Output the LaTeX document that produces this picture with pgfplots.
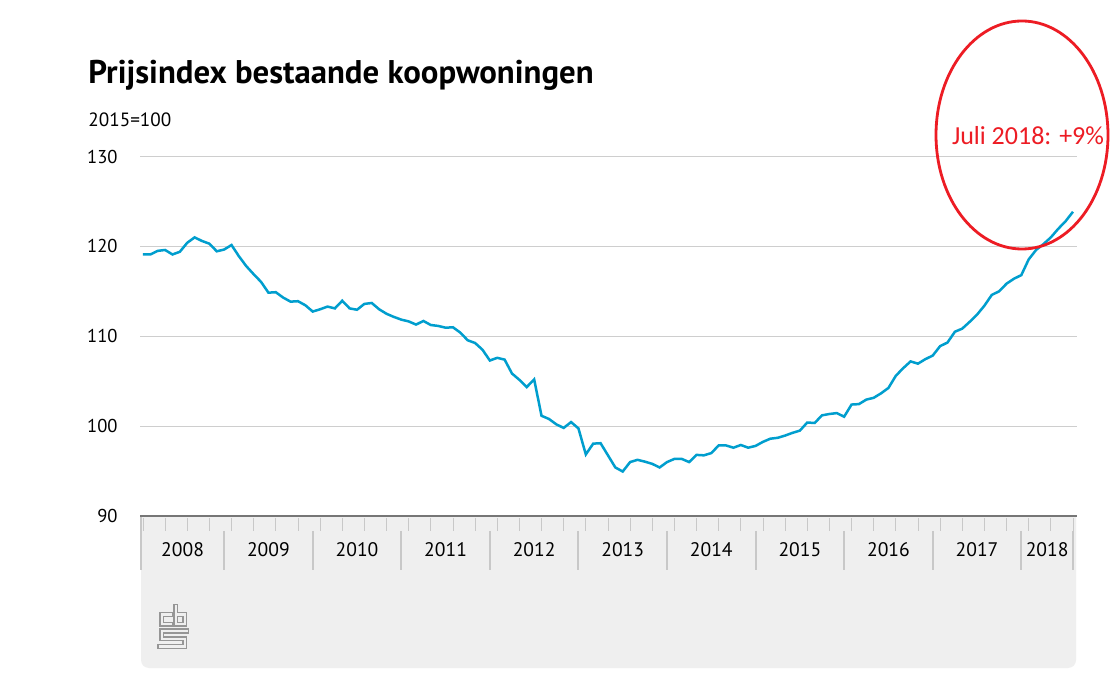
\documentclass[border=0pt]{standalone}
\usepackage{fontspec}
\setmainfont{PT Sans}
\newfontfamily\calibri{Carlito}
\usepackage{pgfplots}
\usepackage{pgfplotstable}
\pgfplotsset{compat=1.18}

\definecolor{cbsblue}{RGB}{0,158,206}
\definecolor{gridgray}{RGB}{206,206,206}
\definecolor{axisgray}{RGB}{118,118,118}
\definecolor{panelgray}{RGB}{239,239,239}
\definecolor{sepgray}{RGB}{200,200,200}
\definecolor{logogray}{RGB}{150,150,150}
\definecolor{annred}{RGB}{237,28,36}

% maandindex 0 = jan 2008 ... 126 = jul 2018
\pgfplotstableread{
m v
0 119.1
1 119.1
2 119.5
3 119.6
4 119.1
5 119.4
6 120.4
7 121.0
8 120.6
9 120.3
10 119.45
11 119.65
12 120.15
13 118.9
14 117.8
15 116.9
16 116.05
17 114.85
18 114.9
19 114.3
20 113.85
21 113.9
22 113.45
23 112.75
24 113.0
25 113.3
26 113.1
27 113.95
28 113.1
29 112.95
30 113.6
31 113.7
32 113.0
33 112.5
34 112.15
35 111.85
36 111.65
37 111.3
38 111.7
39 111.25
40 111.15
41 110.95
42 111.0
43 110.4
44 109.55
45 109.25
46 108.5
47 107.3
48 107.6
49 107.4
50 105.85
51 105.15
52 104.35
53 105.2
54 101.15
55 100.8
56 100.2
57 99.8
58 100.45
59 99.75
60 96.85
61 98.05
62 98.1
63 96.75
64 95.4
65 94.95
66 96.0
67 96.25
68 96.05
69 95.8
70 95.4
71 96.0
72 96.35
73 96.35
74 96.0
75 96.8
76 96.75
77 97.0
78 97.85
79 97.85
80 97.6
81 97.9
82 97.6
83 97.8
84 98.25
85 98.6
86 98.7
87 98.95
88 99.25
89 99.5
90 100.4
91 100.35
92 101.2
93 101.35
94 101.45
95 101.05
96 102.4
97 102.45
98 102.95
99 103.15
100 103.65
101 104.25
102 105.6
103 106.45
104 107.2
105 106.95
106 107.45
107 107.85
108 108.9
109 109.3
110 110.5
111 110.85
112 111.6
113 112.4
114 113.4
115 114.6
116 115.0
117 115.85
118 116.4
119 116.8
120 118.55
121 119.6
122 120.25
123 121.0
124 121.95
125 122.8
126 123.85
}\prijsdata

\begin{document}
\begin{tikzpicture}
% achtergrond, paneel en kop in pixelcoordinaten
\begin{scope}[x=0.5pt,y=-0.5pt]
  \path[use as bounding box, fill=white] (0,0) rectangle (1110,700);
  \fill[panelgray] (141,517) [rounded corners=4pt]-- (141,668) -- (1076,668) [sharp corners]-- (1076,517) -- cycle;
  \foreach \m in {0,3,...,126}
    \draw[sepgray, line width=0.5pt] ({143+7.381*\m},518) -- ++(0,13);
  \foreach \m in {11,23,35,47,59,71,83,95,107,119,126}
    \draw[sepgray, line width=1pt] ({143+7.381*\m},531) -- ++(0,39);
  \draw[sepgray, line width=1pt] (141,517) -- (141,570);
  \node[anchor=base west, inner sep=0pt, font=\bfseries\fontsize{16.4pt}{19pt}\selectfont] at (88,84) {Prijsindex bestaande koopwoningen};
  \node[anchor=base west, inner sep=0pt, font=\fontsize{9.6pt}{11pt}\selectfont] at (88,127) {2015=100};
  % cbs-logo: brede grijze streep met smalle lichte kern
  \begin{scope}[line cap=rect]
    \foreach \w/\c in {2.6pt/logogray, 1.2pt/panelgray}{
      \draw[\c, line width=\w] (170.5,614.3) -- (161.8,614.3) -- (161.8,624.2) -- (170.5,624.2);
      \draw[\c, line width=\w] (175.8,606.5) -- (175.8,624.2) -- (184.8,624.2) -- (184.8,614.3) -- (175.8,614.3);
      \draw[\c, line width=\w] (186.5,631) -- (161.8,631) -- (161.8,638.7) -- (184.8,638.7) -- (184.8,646.5) -- (160,646.5);
    }
  \end{scope}
\end{scope}

\begin{axis}[
  at={(70pt,-258pt)}, anchor=south west,
  scale only axis,
  width=468.33pt, height=179.75pt,
  xmin=-0.4, xmax=126.5,
  ymin=90, ymax=130,
  ytick={90,100,110,120,130},
  xtick={5.37,17,29,41,53,65,77,89,101,113,122.5},
  xticklabels={2008,2009,2010,2011,2012,2013,2014,2015,2016,2017,2018},
  major tick length=0pt,
  tick style={draw=none},
  axis x line*=bottom,
  axis y line*=left,
  y axis line style={draw=none},
  x axis line style={draw=axisgray, line width=1pt, -},
  ymajorgrids,
  grid style={draw=gridgray, line width=0.5pt},
  /pgf/number format/assume math mode=true,
  tick label style={font=\fontsize{9.3pt}{11pt}\selectfont},
  yticklabel style={anchor=east, inner sep=0pt, xshift=-11pt},
  xticklabel style={anchor=base, inner sep=0pt, yshift=-20pt, font=\fontsize{9.8pt}{11pt}\selectfont},
  clip=false,
]
\addplot[cbsblue, line width=1.25pt, mark=none] table[x=m, y=v] {\prijsdata};
\end{axis}

% rode markering
\begin{scope}[x=0.5pt,y=-0.5pt]
  \draw[annred, line width=1.4pt] (1022,135) ellipse [x radius=86, y radius=114];
  \node[anchor=base, inner sep=0pt, text=annred, font=\calibri\fontsize{13pt}{15pt}\selectfont] at (1028,145) {Juli 2018: +9\%};
\end{scope}
\end{tikzpicture}
\end{document}
